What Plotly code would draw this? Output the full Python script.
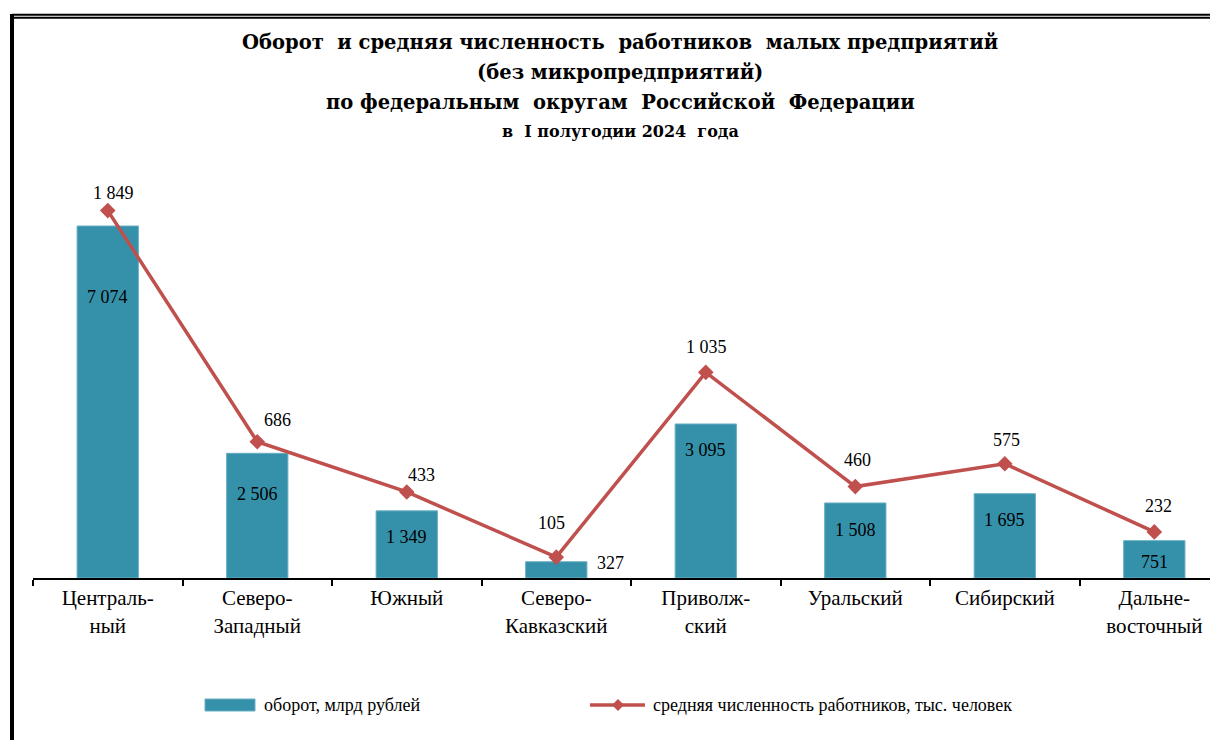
import plotly.graph_objects as go

# ---- data ----
categories = ["Центральный", "Северо-Западный", "Южный", "Северо-Кавказский",
              "Приволжский", "Уральский", "Сибирский", "Дальневосточный"]
tick_labels = ["Централь-<br>ный", "Северо-<br>Западный", "Южный", "Северо-<br>Кавказский",
               "Приволж-<br>ский", "Уральский", "Сибирский", "Дальне-<br>восточный"]
turnover = [7074, 2506, 1349, 327, 3095, 1508, 1695, 751]
employees = [1849, 686, 433, 105, 1035, 460, 575, 232]

bar_name = "оборот, млрд рублей"
line_name = "средняя численность работников, тыс. человек"

# ---- label offsets (styling, px) ----
bar_lbl_dx = [0, 0, 0, 54, 0, 0, 0, 0]
bar_lbl_dy = [-71, -41, -26, -1, -26, -27, -26, -21]
line_lbl_dx = [6, 20, 15, -5, 1, 2, 2, 4]
line_lbl_dy = [18, 22, 17, 34, 25, 27, 24, 26]

def fmt(v):
    return f"{v:,}".replace(",", " ")

# ---- geometry (page has an 8px body margin) ----
OFF = 8
W, H = 1218 - OFF, 740 - OFF
L, R, T, B = 33 - OFF, 0, 150 - OFF, 740 - 578
PW, PH = W - L - R, H - T - B
def px_x(px):  # reference pixel -> paper
    return (px - OFF - L) / PW
def px_y(py):
    return (H - B - (py - OFF)) / PH

FONT_T = "DejaVu Serif"
FONT = "Liberation Serif"
BAR_C = "#3591AA"
LINE_C = "#C0504D"

fig = go.Figure()
fig.add_trace(go.Bar(
    x=categories, y=turnover, name=bar_name, width=0.41,
    marker=dict(color=BAR_C, line=dict(color="#6AAFC4", width=1)),
    yaxis="y", hoverinfo="skip", showlegend=False))
fig.add_trace(go.Scatter(
    x=categories, y=employees, name=line_name, mode="lines+markers",
    line=dict(color=LINE_C, width=3.5),
    marker=dict(symbol="diamond", size=12, color=LINE_C),
    yaxis="y2", hoverinfo="skip", showlegend=False))

ann = []
for c, v, dx, dy in zip(categories, turnover, bar_lbl_dx, bar_lbl_dy):
    ann.append(dict(x=c, y=v, xref="x", yref="y", text=fmt(v), showarrow=False,
                    xshift=dx, yshift=dy, font=dict(family=FONT, size=18, color="black")))
for c, v, dx, dy in zip(categories, employees, line_lbl_dx, line_lbl_dy):
    ann.append(dict(x=c, y=v, xref="x", yref="y2", text=fmt(v), showarrow=False,
                    xshift=dx, yshift=dy, font=dict(family=FONT, size=18, color="black")))

titles = [
    ("Оборот  и средняя численность  работников  малых предприятий", 42, 19.5),
    ("(без микропредприятий)", 72, 19.5),
    ("по федеральным  округам  Российской  Федерации", 103, 19.5),
    ("в  I полугодии 2024  года", 132, 16),
]
for txt, py, sz in titles:
    ann.append(dict(x=px_x(620), y=px_y(py), xref="paper", yref="paper", text=f"<b>{txt}</b>",
                    showarrow=False, xanchor="center", yanchor="middle",
                    font=dict(family=FONT_T, size=sz, color="black")))

# legend (drawn manually)
LEG_Y = 705
ann.append(dict(x=px_x(262), y=px_y(LEG_Y), xref="paper", yref="paper", text=bar_name,
                showarrow=False, xanchor="left", yanchor="middle",
                font=dict(family=FONT, size=18, color="black")))
ann.append(dict(x=px_x(651), y=px_y(LEG_Y), xref="paper", yref="paper", text=line_name,
                showarrow=False, xanchor="left", yanchor="middle",
                font=dict(family=FONT, size=18, color="black")))

dx_d, dy_d = 6 / PW, 6 / PH
cx, cy = px_x(618), px_y(LEG_Y)
shapes = [
    dict(type="line", xref="paper", yref="paper", x0=px_x(12), x1=px_x(1230),
         y0=px_y(14.7), y1=px_y(14.7), line=dict(color="black", width=2)),
    dict(type="line", xref="paper", yref="paper", x0=px_x(12), x1=px_x(1230),
         y0=px_y(17.8), y1=px_y(17.8), line=dict(color="black", width=2)),
    dict(type="line", xref="paper", yref="paper", x0=px_x(12), x1=px_x(12),
         y0=px_y(14), y1=px_y(760), line=dict(color="black", width=4)),
    dict(type="rect", xref="paper", yref="paper", x0=px_x(205), x1=px_x(255),
         y0=px_y(711), y1=px_y(699), fillcolor=BAR_C, line=dict(color="#6AAFC4", width=1)),
    dict(type="line", xref="paper", yref="paper", x0=px_x(590), x1=px_x(645),
         y0=cy, y1=cy, line=dict(color=LINE_C, width=3.5)),
    dict(type="path", xref="paper", yref="paper",
         path=f"M {cx - dx_d} {cy} L {cx} {cy + dy_d} L {cx + dx_d} {cy} L {cx} {cy - dy_d} Z",
         fillcolor=LINE_C, line=dict(color=LINE_C, width=0)),
]

fig.update_layout(
    width=W, height=H,
    margin=dict(l=L, r=R, t=T, b=B, pad=0),
    paper_bgcolor="white", plot_bgcolor="white",
    font=dict(family=FONT, size=16, color="black"),
    showlegend=False,
    xaxis=dict(type="category", range=[-0.5, 7.426], showline=True, linecolor="black",
               linewidth=2, ticks="outside", ticklen=6, tickwidth=2, tickcolor="black",
               tickson="boundaries", tickvals=categories, ticktext=tick_labels,
               tickfont=dict(family=FONT, size=21, color="black"), showgrid=False,
               zeroline=False, fixedrange=True),
    yaxis=dict(range=[0, PH / 0.04976], visible=False, showgrid=False, fixedrange=True),
    yaxis2=dict(range=[0, PH / 0.1987], visible=False, overlaying="y", side="right",
                showgrid=False, fixedrange=True),
    annotations=ann, shapes=shapes, bargap=0.5,
)

fig.write_html("out.html")
